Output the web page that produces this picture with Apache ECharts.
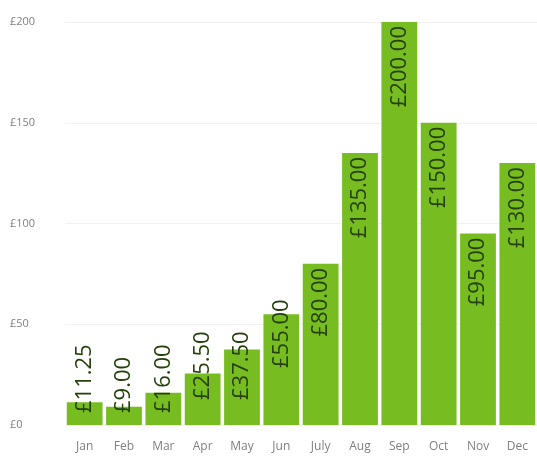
<!DOCTYPE html>
<html>
<head>
<meta charset="utf-8">
<script src="https://cdn.jsdelivr.net/npm/echarts@6/dist/echarts.min.js"></script>
<style>
  html, body { margin: 0; padding: 0; background: #fff; }
  #chart { width: 537px; height: 456px; }
</style>
</head>
<body>
<div id="chart"></div>
<script>
var months = ['Jan', 'Feb', 'Mar', 'Apr', 'May', 'Jun', 'July', 'Aug', 'Sep', 'Oct', 'Nov', 'Dec'];
var spend = [11.25, 9.00, 16.00, 25.50, 37.50, 55.00, 80.00, 135.00, 200.00, 150.00, 95.00, 130.00];
var yTicks = [0, 50, 100, 150, 200];

// short bars: the label starts near the bottom and runs out of the bar
function labelFor(v) {
  if (v >= 80) {
    return { position: 'insideTop', align: 'right', distance: 4 };
  }
  var d = v < 20 ? 12 : (v < 40 ? 25 : 57);
  return { position: 'insideBottom', align: 'left', distance: d };
}

var chart = echarts.init(document.getElementById('chart'));
chart.setOption({
  animation: false,
  grid: { left: 65, right: -2, top: 22, bottom: 31 },
  xAxis: {
    type: 'category',
    data: months,
    axisLine: { show: false },
    axisTick: { show: false },
    axisLabel: { color: '#808080', fontSize: 12, fontFamily: 'Open Sans', margin: 16 }
  },
  yAxis: {
    type: 'value',
    min: yTicks[0],
    max: yTicks[yTicks.length - 1],
    interval: 50,
    axisLabel: {
      color: '#808080', fontSize: 11, fontFamily: 'Open Sans',
      align: 'left', margin: 55,
      formatter: function (v) { return '£' + v; }
    },
    splitLine: { lineStyle: { color: '#f1f1f1' } }
  },
  series: [{
    type: 'bar',
    barCategoryGap: '9%',
    itemStyle: { color: '#77bd22' },
    data: spend.map(function (v) {
      var l = labelFor(v);
      return {
        value: v,
        label: {
          show: true,
          rotate: 90,
          position: l.position,
          align: l.align,
          verticalAlign: 'middle',
          distance: l.distance,
          color: '#25410c',
          fontSize: 22,
          fontFamily: 'Open Sans',
          formatter: function (p) { return '£' + p.value.toFixed(2); }
        }
      };
    })
  }]
});
</script>
</body>
</html>
